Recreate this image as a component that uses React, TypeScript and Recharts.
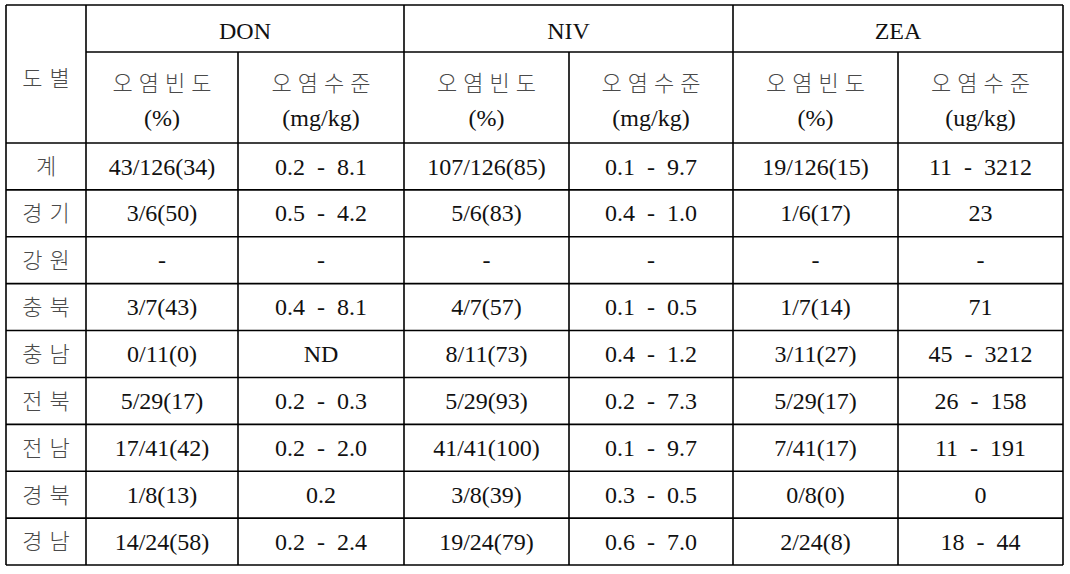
import React from 'react';
import { ScatterChart, Scatter, XAxis, YAxis, ReferenceLine } from 'recharts';

// table contents
const regions = ['계', '경기', '강원', '충북', '충남', '전북', '전남', '경북', '경남'];
const toxins = ['DON', 'NIV', 'ZEA'];
const subHeads = ['오염빈도', '오염수준', '오염빈도', '오염수준', '오염빈도', '오염수준'];
const subUnits = ['(%)', '(mg/kg)', '(%)', '(mg/kg)', '(%)', '(ug/kg)'];

const donFreq = ['43/126(34)', '3/6(50)', '-', '3/7(43)', '0/11(0)', '5/29(17)', '17/41(42)', '1/8(13)', '14/24(58)'];
const donLevel = ['0.2  -  8.1', '0.5  -  4.2', '-', '0.4  -  8.1', 'ND', '0.2  -  0.3', '0.2  -  2.0', '0.2', '0.2  -  2.4'];
const nivFreq = ['107/126(85)', '5/6(83)', '-', '4/7(57)', '8/11(73)', '5/29(93)', '41/41(100)', '3/8(39)', '19/24(79)'];
const nivLevel = ['0.1  -  9.7', '0.4  -  1.0', '-', '0.1  -  0.5', '0.4  -  1.2', '0.2  -  7.3', '0.1  -  9.7', '0.3  -  0.5', '0.6  -  7.0'];
const zeaFreq = ['19/126(15)', '1/6(17)', '-', '1/7(14)', '3/11(27)', '5/29(17)', '7/41(17)', '0/8(0)', '2/24(8)'];
const zeaLevel = ['11  -  3212', '23', '-', '71', '45  -  3212', '26  -  158', '11  -  191', '0', '18  -  44'];

const columns = [donFreq, donLevel, nivFreq, nivLevel, zeaFreq, zeaLevel];

// layout (table units = px inside the plot area)
const colEdges = [0, 80, 232, 398, 563, 727, 892, 1057];
const TABLE_H = 560;
const GROUP_LINE = 47;
const HEAD_BOTTOM = 138;
const rowH = (TABLE_H - HEAD_BOTTOM) / regions.length;

const mid = (a: number, b: number) => (a + b) / 2;
const rowMid = (i: number) => HEAD_BOTTOM + rowH * (i + 0.5);

type Cell = { x: number; y: number; label: string; ko: boolean; head?: boolean };

const cells: Cell[] = [];
cells.push({ x: mid(colEdges[0], colEdges[1]), y: 73, label: '도별', ko: true });
toxins.forEach((t, i) => {
  cells.push({ x: mid(colEdges[1 + i * 2], colEdges[3 + i * 2]), y: 26, label: t, ko: false });
});
subHeads.forEach((h, i) => {
  const x = mid(colEdges[i + 1], colEdges[i + 2]);
  cells.push({ x, y: 78, label: h, ko: true, head: true });
  cells.push({ x, y: 113, label: subUnits[i], ko: false });
});
regions.forEach((r, ri) => {
  cells.push({ x: mid(colEdges[0], colEdges[1]), y: rowMid(ri), label: r, ko: true });
  columns.forEach((col, ci) => {
    cells.push({ x: mid(colEdges[ci + 1], colEdges[ci + 2]), y: rowMid(ri), label: col[ri], ko: false });
  });
});

// grid segments
const hLines: [number, number, number][] = [
  [0, colEdges[7], 0],
  [colEdges[1], colEdges[7], GROUP_LINE],
  [0, colEdges[7], HEAD_BOTTOM],
  ...regions.map((_, i) => [0, colEdges[7], HEAD_BOTTOM + rowH * (i + 1)] as [number, number, number]),
];
const vLines: [number, number, number][] = colEdges.map((x, i) => [
  x,
  i === 2 || i === 4 || i === 6 ? GROUP_LINE : 0,
  TABLE_H,
]);

const CellText = (props: any) => {
  const { cx, cy, payload } = props;
  const c = payload as Cell;
  const ls = c.ko ? (c.head ? 6 : 7) : 0;
  return (
    <text
      x={cx + ls / 2}
      y={cy}
      dy={c.ko ? '0.36em' : '0.34em'}
      textAnchor="middle"
      style={{ whiteSpace: 'pre' }}
      fontFamily={c.ko ? '"Noto Sans CJK KR", "Noto Sans", sans-serif' : '"Liberation Serif", "Times New Roman", serif'}
      fontSize={c.ko ? 22 : 24}
      fontWeight={c.ko ? 300 : 400}
      letterSpacing={ls}
      fill={c.ko ? '#4a4a4a' : '#111'}
    >
      {c.label}
    </text>
  );
};

export default function App() {
  return (
    <div style={{ position: 'absolute', left: 0, top: 0, width: 1070, height: 574, background: '#fff' }}>
      <ScatterChart width={1070} height={574} margin={{ top: 5, right: 7, bottom: 9, left: 6 }}>
        <XAxis type="number" dataKey="x" domain={[0, colEdges[7]]} hide />
        <YAxis type="number" dataKey="y" domain={[0, TABLE_H]} reversed hide />
        {hLines.map(([x1, x2, y], i) => (
          <ReferenceLine
            key={`h${i}`}
            segment={[{ x: x1, y }, { x: x2, y }]}
            stroke="#000"
            strokeWidth={1.6}
            ifOverflow="visible"
          />
        ))}
        {vLines.map(([x, y1, y2], i) => (
          <ReferenceLine
            key={`v${i}`}
            segment={[{ x, y: y1 }, { x, y: y2 }]}
            stroke="#000"
            strokeWidth={1.6}
            ifOverflow="visible"
          />
        ))}
        <Scatter data={cells} shape={CellText} isAnimationActive={false} />
      </ScatterChart>
    </div>
  );
}
